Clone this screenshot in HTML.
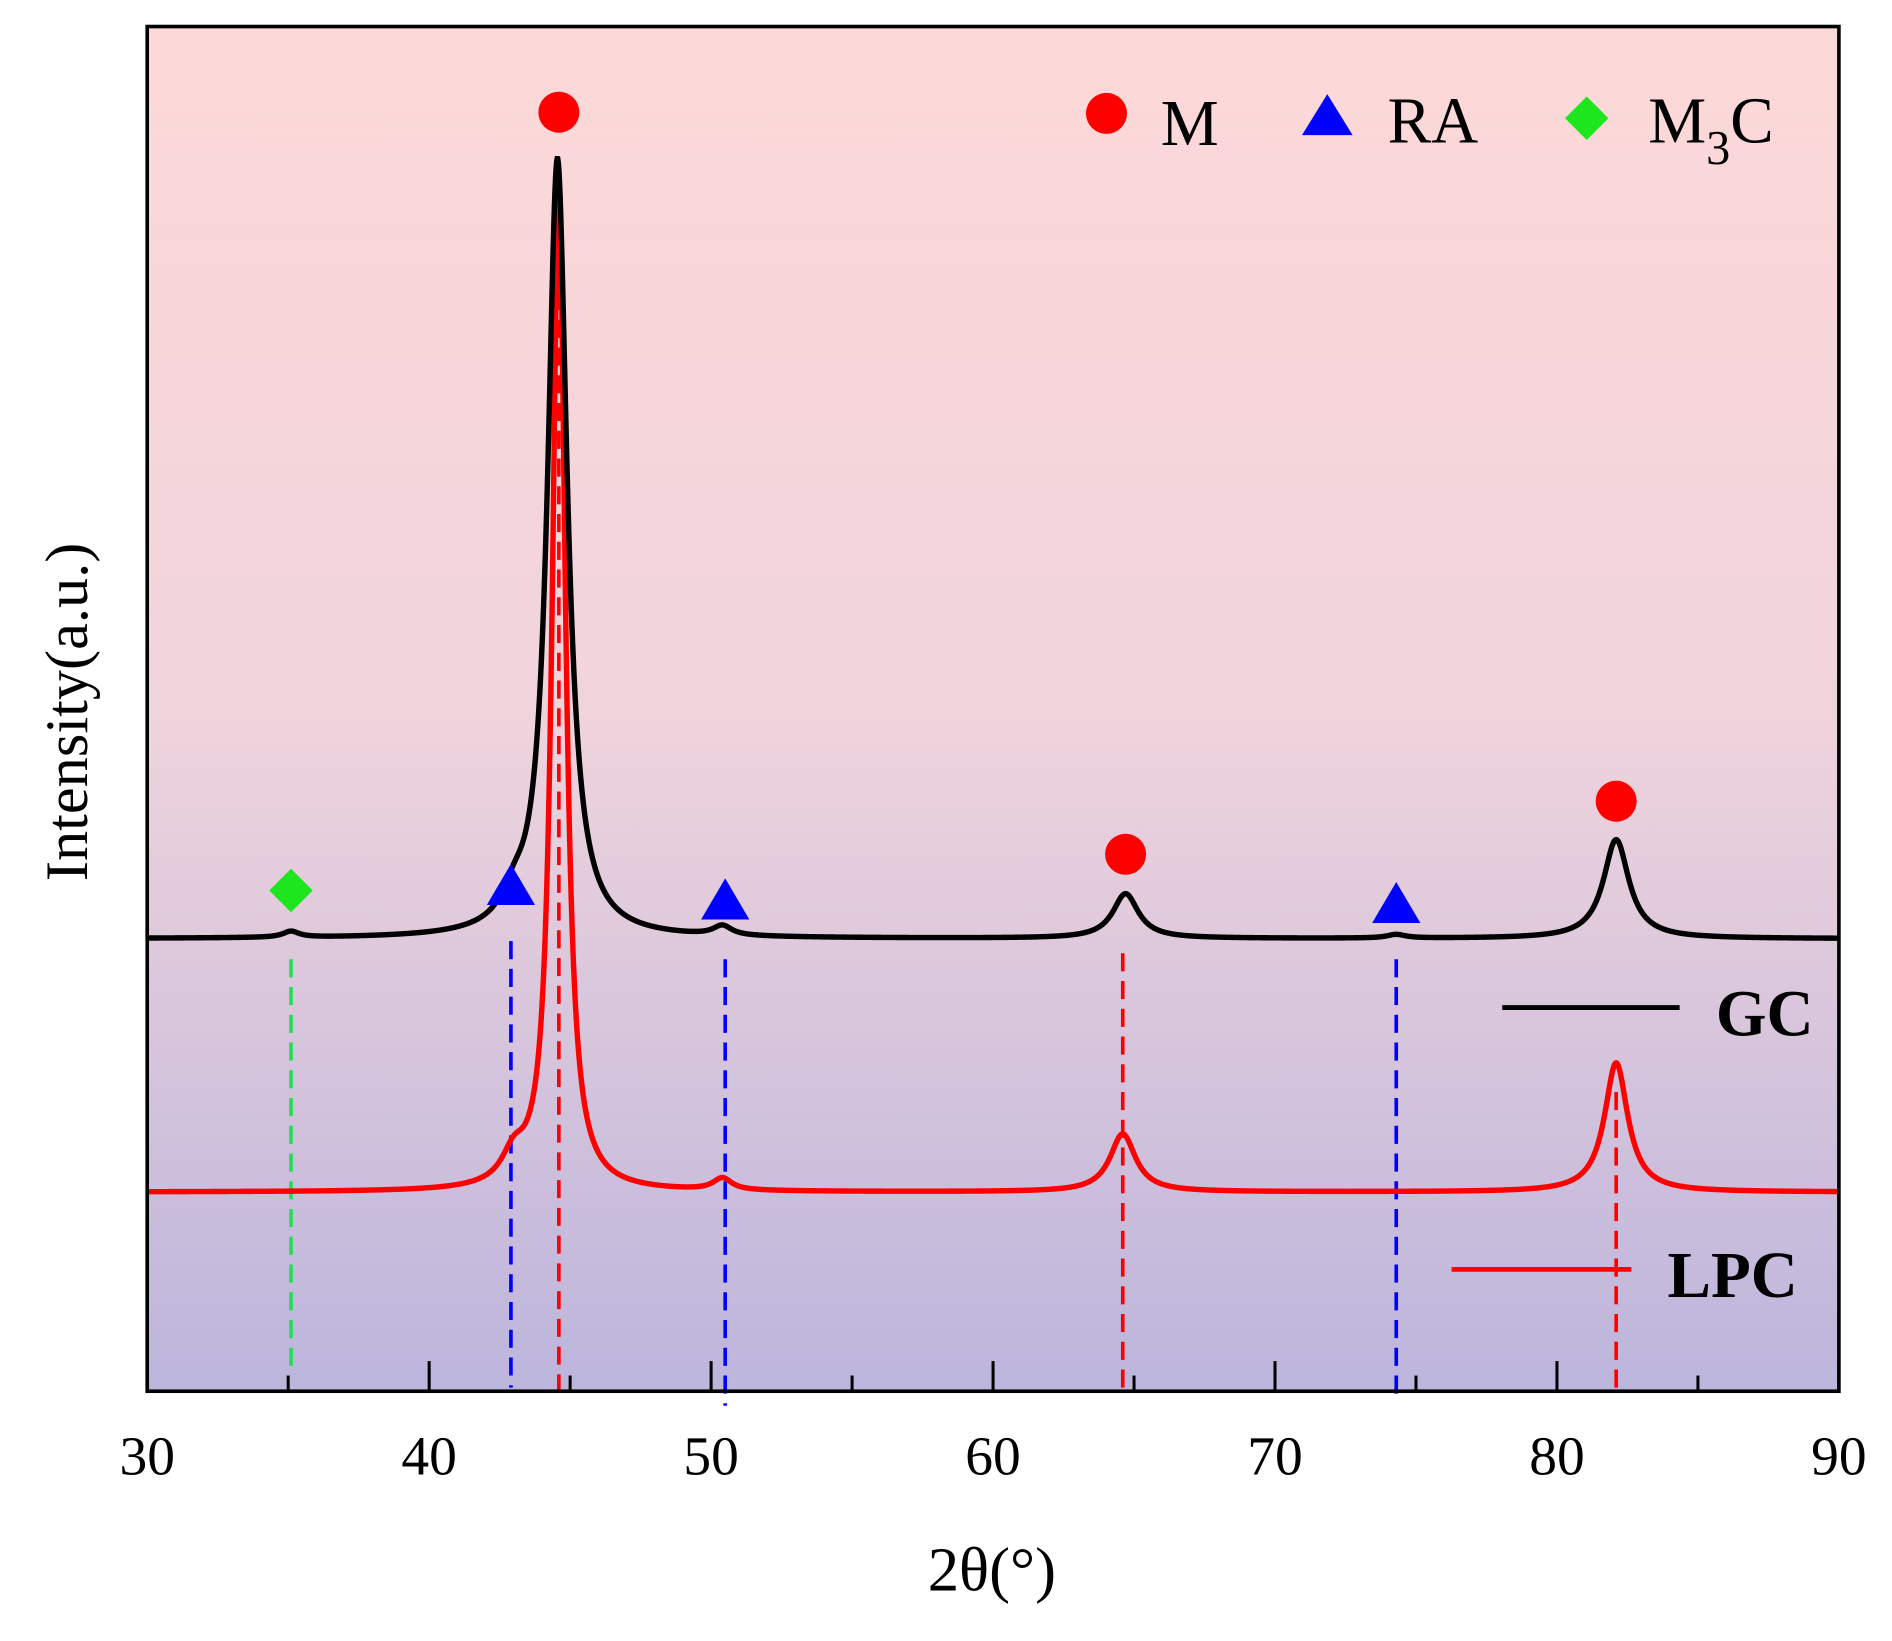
<!DOCTYPE html>
<html><head><meta charset="utf-8"><style>
html,body{margin:0;padding:0;background:#fff}
svg{display:block}
text{font-family:"Liberation Serif",serif}
</style></head><body>
<svg id="chart" width="1892" height="1641" viewBox="0 0 1568 1360" preserveAspectRatio="none" xmlns="http://www.w3.org/2000/svg">
<defs><linearGradient id="bg" x1="0" y1="0" x2="0" y2="1">
<stop offset="0" stop-color="#fdd8d8"/><stop offset="0.5" stop-color="#f0d4dc"/><stop offset="1" stop-color="#bcb5dc"/></linearGradient></defs>
<rect x="122" y="22" width="1402" height="1131" fill="url(#bg)"/>
<g id="marks"></g>
<rect x="122" y="22" width="1402" height="1131" fill="none" stroke="#000" stroke-width="3"/>
<g id="axis"></g>
<text x="822" y="1318" font-size="52" text-anchor="middle">2θ(°)</text>
<text transform="translate(72,590) rotate(-90)" font-size="50" text-anchor="middle">Intensity(a.u.)</text>
<g>
<circle cx="917" cy="94" r="17" fill="#f00"/>
<text x="962" y="120" font-size="54">M</text>
<polygon points="1100,78 1121,112 1079,112" fill="#00f"/>
<text x="1150" y="118" font-size="54">RA</text>
<polygon points="1315,80 1333,98 1315,116 1297,98" fill="#1ee61e"/>
<text x="1366" y="118" font-size="54">M<tspan font-size="40" dy="18">3</tspan><tspan dy="-18">C</tspan></text>
</g>
<g>
<line x1="1245" y1="835" x2="1392" y2="835" stroke="#000" stroke-width="4"/>
<text x="1422" y="858" font-size="54" font-weight="bold">GC</text>
<line x1="1203" y1="1052" x2="1352" y2="1052" stroke="#f00" stroke-width="4"/>
<text x="1382" y="1075" font-size="54" font-weight="bold">LPC</text>
</g>
</svg>
<script>
const xTicks=[30,40,50,60,70,80,90];
const xMinor=[35,45,55,65,75,85];
const gcBaseline=375;
const gcPeakPos=[35.1,43.0,44.55,50.4,64.7,74.3,82.1];
const gcPeakHeight=[5,18,645,8,37,3,82];
const gcPeakWidth=[0.35,0.5,0.42,0.4,0.55,0.4,0.55];
const lpcBaseline=165;
const lpcPeakPos=[43.0,44.6,50.4,64.6,82.1];
const lpcPeakHeight=[22,835,10,48,107];
const lpcPeakWidth=[0.5,0.28,0.4,0.55,0.5];
const circlePos=[[44.6,1060],[64.7,445],[82.1,489]];
const trianglePos=[[42.9,420],[50.5,408],[74.3,405]];
const diamondPos=[[35.1,415]];
const dashLines=[[35.1,358,13,'#22dd55'],[42.9,373,3,'#00f'],[44.6,1003,-7,'#f00'],[50.5,358,-12,'#00f'],[64.6,363,3,'#f00'],[74.3,358,-7,'#00f'],[82.1,248,3,'#f00']];
const X=v=>122+(v-30)*(1402/60);
const Y=v=>1153-v;
const NS='http://www.w3.org/2000/svg';
const marks=document.getElementById('marks'),axis=document.getElementById('axis');
function mk(tag,attrs,parent){const e=document.createElementNS(NS,tag);for(const k in attrs)e.setAttribute(k,attrs[k]);parent.appendChild(e);return e;}
dashLines.forEach(d=>{
 const l=mk('line',{x1:X(d[0]),x2:X(d[0]),y1:Y(d[1]),y2:Y(d[2]),stroke:d[3],'stroke-width':3,'stroke-dasharray':'15 8'},marks);
 
 
});
function curve(base,pos,h,w){let d='';for(let x=30;x<=90.0001;x+=0.02){let v=base;for(let i=0;i<pos.length;i++){const t=(x-pos[i])/w[i];v+=h[i]/(1+t*t);}d+=(d?'L':'M')+X(x).toFixed(2)+' '+Y(v).toFixed(2);}return d;}
const lpc=mk('path',{d:curve(lpcBaseline,lpcPeakPos,lpcPeakHeight,lpcPeakWidth),fill:'none',stroke:'#f00','stroke-width':4.5},marks);


const gc=mk('path',{d:curve(gcBaseline,gcPeakPos,gcPeakHeight,gcPeakWidth),fill:'none',stroke:'#000','stroke-width':4.5},marks);


circlePos.forEach(p=>{const c=mk('circle',{cx:X(p[0]),cy:Y(p[1]),r:17,fill:'#f00'},marks);
 
 });
trianglePos.forEach(p=>{const x=X(p[0]),y=Y(p[1]);const t=mk('polygon',{points:`${x},${y-17} ${x+20},${y+17} ${x-20},${y+17}`,fill:'#00f'},marks);
 
 });
diamondPos.forEach(p=>{const x=X(p[0]),y=Y(p[1]);const t=mk('polygon',{points:`${x},${y-18} ${x+18},${y} ${x},${y+18} ${x-18},${y}`,fill:'#1ee61e'},marks);
 
 });
xTicks.forEach(v=>{
 const l=mk('line',{x1:X(v),x2:X(v),y1:1153,y2:1128,stroke:'#000','stroke-width':2.5},axis);
 
 
 const t=mk('text',{x:X(v),y:1222,'font-size':46,'text-anchor':'middle'},axis);t.textContent=v;
 
 
});
xMinor.forEach(v=>{
 const l=mk('line',{x1:X(v),x2:X(v),y1:1153,y2:1140,stroke:'#000','stroke-width':2.5},axis);
 
 
});
</script>
</body></html>
